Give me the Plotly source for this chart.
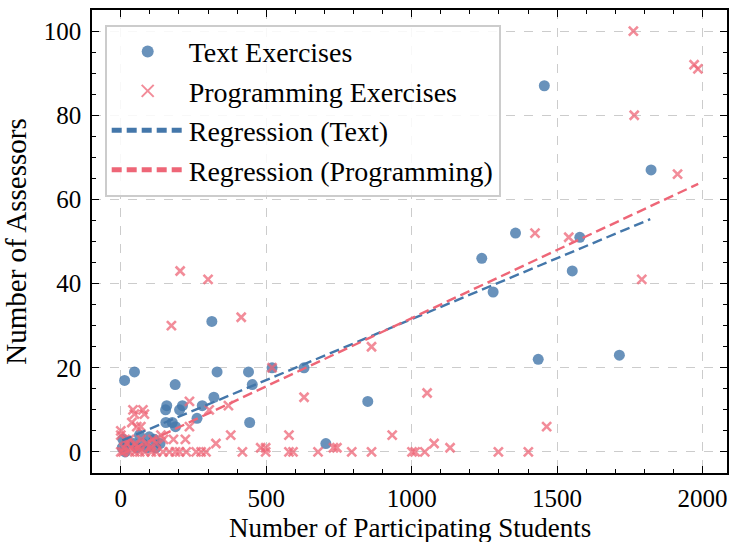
import plotly.graph_objects as go

# ---------------- data ----------------
text_x = [1456, 1823, 1357, 1578, 1241, 1552, 1280, 1714, 1435, 849, 705,
          313, 520, 630, 331, 439, 47, 13, 187, 452, 320, 158, 212, 280,
          154, 202, 262, 443, 155, 177, 188,
          7, 24, 64, 98, 5, 20, 45, 75, 90, 115, 135, 15, 55, 120]
text_y = [87, 67, 52, 51, 46, 43, 38, 23, 22, 12, 2,
          31, 20, 20, 19, 19, 19, 17, 16, 16, 13, 11, 11, 11,
          10, 10, 8, 7, 7, 7, 6,
          3, 2.5, 4, 3.6, 1, 2, 2, 2, 1, 3, 2, 0, 1, 1]

prog_x = [1762, 1971, 1984, 1765, 1914, 1424, 1540, 1791, 204, 300, 414, 174,
          862, 520, 1053, 630, 236, 370, 304, 76, 42, 47, 81, 38, 69, 55, 236,
          1464, 0, 0, 138, 378, 578, 933, 181, 222, 147, 327, 1077, 122, 1132,
          731, 743, 481, 498,
          0, 8, 31, 48, 65, 82, 105, 122, 145, 167, 188, 202, 225, 259, 276,
          293, 418, 498, 578, 592, 678, 794, 862, 1001, 1012, 1045, 1298, 1401,
          10, 20, 35, 50, 60, 90, 100, 110, 30, 70, 15]
prog_y = [100, 92, 91, 80, 66, 52, 51, 41, 43, 41, 32, 30,
          25, 20, 14, 13, 12, 11, 10, 10, 10, 9, 9, 7, 6, 6, 6,
          6, 5, 4, 4, 4, 4, 4, 3, 3, 3, 2, 2, 2, 1,
          1, 1, 1, 1,
          0, 0, 0, 0, 0, 0, 0, 0, 0, 0, 0, 0, 0, 0, 0,
          0, 0, 0, 0, 0, 0, 0, 0, 0, 0, 0, 0, 0,
          1, 2, 1, 2, 1, 2, 1, 3, 3, 3, 3]

reg_text_x = [5, 1820]
reg_text_y = [2.75, 55.3]
reg_prog_x = [0, 1985]
reg_prog_y = [-0.6, 63.7]

x_ticks = [0, 500, 1000, 1500, 2000]
y_ticks = [0, 20, 40, 60, 80, 100]

x_title = "Number of Participating Students"
y_title = "Number of Assessors"

BLUE = "#4477AA"
PINK = "#EE6677"
FONT = "Liberation Serif"

fig = go.Figure()
fig.add_trace(go.Scatter(
    x=text_x, y=text_y, mode="markers", name="Text Exercises",
    marker=dict(color="rgba(68,119,170,0.8)", size=11, line=dict(width=0)),
))
fig.add_trace(go.Scatter(
    x=prog_x, y=prog_y, mode="markers", name="Programming Exercises",
    marker=dict(symbol="x-thin", size=9, color="rgba(238,102,119,0.75)",
                line=dict(width=2.6, color="rgba(238,102,119,0.75)")),
))
fig.add_trace(go.Scatter(
    x=reg_text_x, y=reg_text_y, mode="lines", name="Regression (Text)",
    line=dict(color=BLUE, width=2.4, dash="10px,5px"),
))
fig.add_trace(go.Scatter(
    x=reg_prog_x, y=reg_prog_y, mode="lines", name="Regression (Programming)",
    line=dict(color=PINK, width=2.4, dash="10px,5px"),
))

axis_common = dict(
    showline=True, linecolor="black", linewidth=1.5, mirror="allticks",
    ticks="inside", ticklen=7, tickwidth=1.3, tickcolor="black",
    showgrid=True, gridcolor="#cccccc", griddash="dash", gridwidth=1,
    zeroline=False, automargin=False,
    tickfont=dict(family=FONT, size=25, color="black"),
    ticklabelstandoff=4,
)

fig.update_xaxes(
    range=[-99, 2084], tickvals=x_ticks, ticklabelstandoff=2,
    minor=dict(ticks="inside", dtick=100, ticklen=4, tickwidth=1.1,
               tickcolor="black", showgrid=False),
    **{k: v for k, v in axis_common.items() if k != "ticklabelstandoff"},
)
fig.update_yaxes(
    range=[-5, 105], tickvals=y_ticks,
    minor=dict(ticks="inside", dtick=5, ticklen=4, tickwidth=1.1,
               tickcolor="black", showgrid=False),
    title=dict(text=y_title,
               font=dict(family=FONT, size=29, color="black")),
    **axis_common,
)

fig.add_annotation(
    text=x_title, xref="paper", yref="paper", x=0.5, y=-0.118,
    xanchor="center", yanchor="middle", showarrow=False,
    font=dict(family=FONT, size=27, color="black"),
)

fig.update_layout(
    width=735, height=542,
    margin=dict(l=92, r=8, t=10, b=69),
    plot_bgcolor="white", paper_bgcolor="white",
    font=dict(family=FONT, size=26, color="black"),
    legend=dict(
        x=0.02, y=0.968, xanchor="left", yanchor="top",
        bgcolor="rgba(255,255,255,0.85)", bordercolor="#cccccc", borderwidth=2,
        font=dict(family=FONT, size=28, color="black"),
        tracegroupgap=0, itemsizing="constant", itemwidth=72,
    ),
    showlegend=True,
)

fig.write_html("out.html")
